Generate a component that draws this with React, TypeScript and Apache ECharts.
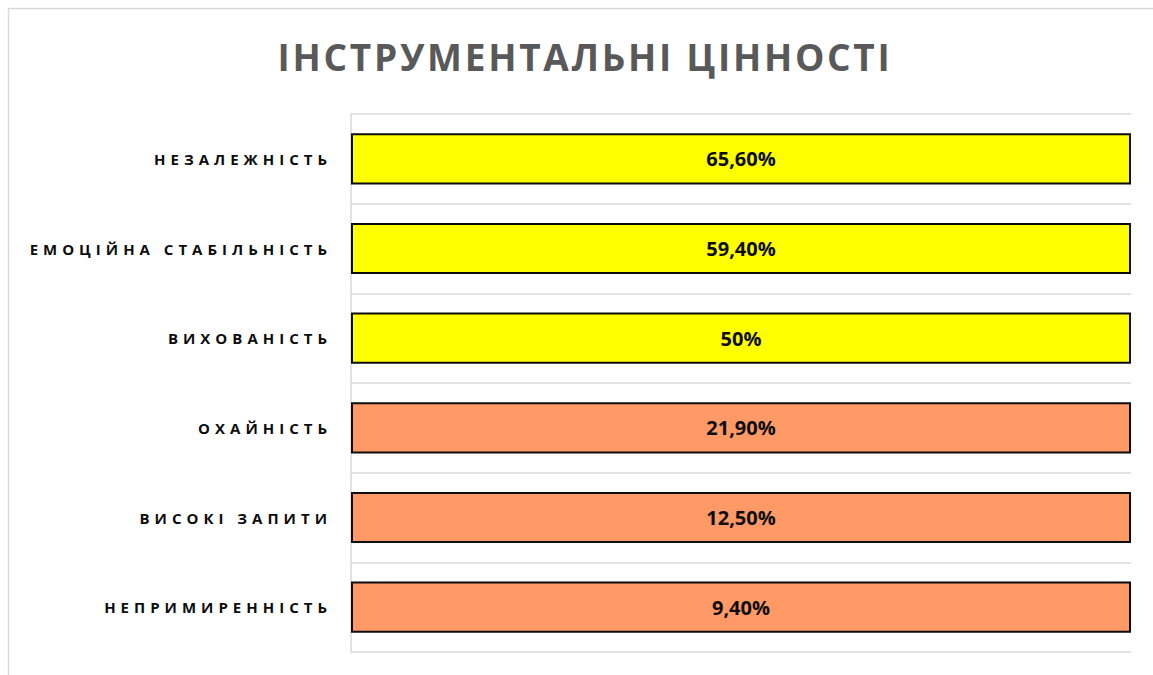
import React, { useEffect, useRef } from "react";
import * as echarts from "echarts";

const categories = [
  "НЕЗАЛЕЖНІСТЬ",
  "ЕМОЦІЙНА СТАБІЛЬНІСТЬ",
  "ВИХОВАНІСТЬ",
  "ОХАЙНІСТЬ",
  "ВИСОКІ ЗАПИТИ",
  "НЕПРИМИРЕННІСТЬ",
];
const values = [65.6, 59.4, 50, 21.9, 12.5, 9.4];
const barColors = ["#FFFF00", "#FFFF00", "#FFFF00", "#FF9966", "#FF9966", "#FF9966"];
const titleText = "ІНСТРУМЕНТАЛЬНІ ЦІННОСТІ";

const fmt = (v: number) =>
  Number.isInteger(v) ? `${v}%` : `${v.toFixed(2).replace(".", ",")}%`;

export default function App() {
  const ref = useRef<HTMLDivElement>(null);
  useEffect(() => {
    document.body.style.margin = "0";
    const chart = echarts.init(ref.current!, undefined, { renderer: "svg" });
    // 100% stacked: each row's share of its own row total
    const shares = values.map((v) => (v / v) * 100);
    chart.setOption({
      animation: false,
      backgroundColor: "#ffffff",
      title: {
        text: titleText,
        left: 580,
        textAlign: "center",
        top: 33,
        textStyle: {
          fontFamily: "Open Sans",
          fontSize: 37,
          fontWeight: "bold",
          color: "#595959",
        },
      },
      graphic: [
        {
          type: "rect",
          shape: { x: 8.5, y: 8.5, width: 1300, height: 800 },
          style: { fill: "none", stroke: "#d9d9d9", lineWidth: 1.5 },
          silent: true,
          z: 0,
        },
      ],
      grid: { left: 351, right: 22, top: 114, bottom: 23 },
      xAxis: {
        type: "value",
        min: 0,
        max: 100,
        show: false,
      },
      yAxis: {
        type: "category",
        data: categories,
        inverse: true,
        axisLine: { show: true, lineStyle: { color: "#d9d9d9", width: 1.5 } },
        axisTick: { show: false },
        splitLine: { show: true, lineStyle: { color: "#d9d9d9", width: 1.5 } },
        axisLabel: {
          margin: 19,
          fontFamily: "Open Sans",
          fontSize: 15,
          fontWeight: "bold",
          color: "#0d0d0d",
        },
      },
      series: [
        {
          type: "bar",
          stack: "total",
          barWidth: "57%",
          data: shares.map((s, i) => ({
            value: s,
            itemStyle: { color: barColors[i] },
          })),
          itemStyle: { borderColor: "#0d0d0d", borderWidth: 2 },
          label: {
            show: true,
            position: "inside",
            formatter: (p: any) => fmt(values[p.dataIndex]),
            fontFamily: "Open Sans",
            fontSize: 20,
            fontWeight: "bold",
            color: "#0d0d0d",
          },
        },
      ],
    });
    const svg = ref.current!.querySelector("svg");
    if (svg) {
      svg.querySelectorAll("text").forEach((t) => {
        const s = t.textContent || "";
        if (s === titleText) t.style.letterSpacing = "2.7px";
        else if (categories.includes(s)) t.style.letterSpacing = "5px";
      });
    }
    return () => chart.dispose();
  }, []);
  return (
    <div
      ref={ref}
      style={{ position: "absolute", left: 0, top: 0, width: 1153, height: 675 }}
    />
  );
}
